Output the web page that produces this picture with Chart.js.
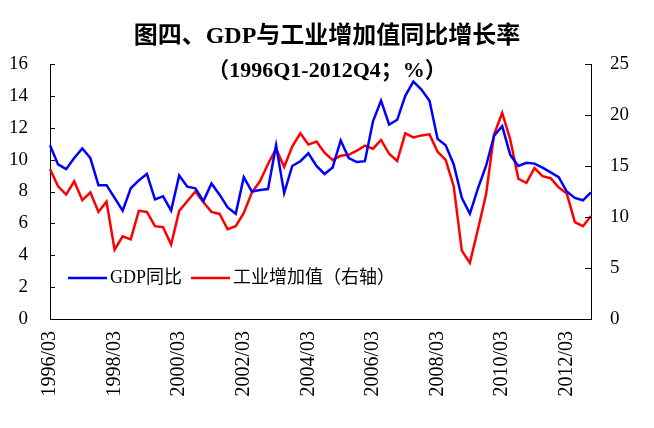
<!DOCTYPE html>
<html>
<head>
<meta charset="utf-8">
<script src="https://cdn.jsdelivr.net/npm/chart.js@4.4.1/dist/chart.umd.min.js"></script>
<style>
    body { margin: 0; background: #fff; }
    #wrap { width: 654px; height: 428px; }
</style>
</head>
<body>
<div id="wrap"><canvas id="chart" width="654" height="428"></canvas></div>
<script>
// 数据：1996Q1 - 2012Q4，季度
const years = [1996, 1997, 1998, 1999, 2000, 2001, 2002, 2003, 2004, 2005, 2006, 2007, 2008, 2009, 2010, 2011, 2012];
const months = ["03", "06", "09", "12"];
const quarterLabels = [];
years.forEach(y => months.forEach(m => quarterLabels.push(y + "/" + m)));

const gdpYoY = [
    10.9, 9.7, 9.4, 10.1, 10.7, 10.1, 8.4, 8.4, 7.6, 6.8,
    8.2, 8.7, 9.1, 7.5, 7.7, 6.8, 9.0, 8.3, 8.2, 7.4,
    8.5, 7.8, 7.0, 6.6, 8.9, 8.0, 8.1, 8.15, 10.9, 7.9,
    9.6, 9.9, 10.4, 9.6, 9.1, 9.5, 11.2, 10.1, 9.85, 9.9,
    12.4, 13.7, 12.2, 12.5, 14.0, 14.9, 14.4, 13.7, 11.3, 10.9,
    9.7, 7.6, 6.6, 8.2, 9.6, 11.5, 12.1, 10.3, 9.6, 9.8,
    9.75, 9.5, 9.2, 8.9, 8.0, 7.6, 7.45, 7.95
];

const industryYoY = [
    14.7, 13.0, 12.2, 13.5, 11.65, 12.4, 10.5, 11.5, 6.8, 8.1,
    7.8, 10.6, 10.5, 9.1, 9.0, 7.3, 10.6, 11.55, 12.5, 11.45,
    10.5, 10.3, 8.8, 9.1, 10.4, 12.4, 13.5, 15.2, 16.7, 14.9,
    16.9, 18.2, 17.1, 17.4, 16.3, 15.6, 16.0, 16.1, 16.5, 17.0,
    16.7, 17.55, 16.2, 15.5, 18.2, 17.8, 18.0, 18.1, 16.4, 15.6,
    13.0, 6.7, 5.5, 8.8, 12.2, 18.1, 20.2, 17.6, 13.75, 13.35,
    14.8, 14.0, 13.8, 12.9, 12.3, 9.5, 9.1, 10.1
];

const titleText = "图四、GDP与工业增加值同比增长率";
const subtitleText = "（1996Q1-2012Q4；%）";

const serif = '"Liberation Serif", "Noto Sans CJK SC", serif';

// 标题（压在图表区上方）
const titlePlugin = {
    id: "titles",
    afterDraw(chart) {
        const ctx = chart.ctx;
        const cx = chart.width / 2;
        ctx.save();
        ctx.fillStyle = "#000";
        ctx.textAlign = "center";
        ctx.textBaseline = "middle";
        ctx.font = "bold 24px " + serif;
        ctx.fillText(titleText, cx, 37);
        ctx.font = "bold 22px " + serif;
        ctx.fillText(subtitleText, cx, 71);
        ctx.restore();
    }
};

// 向内的刻度线
const innerTicks = {
    id: "innerTicks",
    afterDraw(chart) {
        const ctx = chart.ctx;
        const area = chart.chartArea;
        ctx.save();
        ctx.strokeStyle = "#000";
        ctx.lineWidth = 1;
        ["y", "y1"].forEach(id => {
            const s = chart.scales[id];
            s.ticks.forEach(t => {
                const py = Math.round(s.getPixelForValue(t.value)) + 0.5;
                ctx.beginPath();
                if (id === "y") {
                    ctx.moveTo(area.left, py);
                    ctx.lineTo(area.left + 5, py);
                } else {
                    ctx.moveTo(area.right, py);
                    ctx.lineTo(area.right - 6, py);
                }
                ctx.stroke();
            });
        });
        ctx.restore();
    }
};

// 图例放在图表区左下角
const innerLegend = {
    id: "innerLegend",
    afterDraw(chart) {
        const ctx = chart.ctx;
        let x = 68;
        const y = 278;
        ctx.save();
        ctx.font = "18px " + serif;
        ctx.textBaseline = "middle";
        ctx.textAlign = "left";
        chart.data.datasets.forEach(ds => {
            ctx.strokeStyle = ds.borderColor;
            ctx.lineWidth = 2.5;
            ctx.beginPath();
            ctx.moveTo(x, y);
            ctx.lineTo(x + 39, y);
            ctx.stroke();
            x += 42;
            ctx.fillStyle = "#000";
            ctx.fillText(ds.label, x, y);
            x += ctx.measureText(ds.label).width + 9;
        });
        ctx.restore();
    }
};

const ctx = document.getElementById("chart").getContext("2d");

new Chart(ctx, {
    type: "line",
    data: {
        labels: quarterLabels,
        datasets: [
            {
                label: "GDP同比",
                data: gdpYoY,
                borderColor: "#0000FF",
                borderWidth: 2.5,
                pointRadius: 0,
                tension: 0,
                yAxisID: "y"
            },
            {
                label: "工业增加值（右轴）",
                data: industryYoY,
                borderColor: "#FF0000",
                borderWidth: 2.5,
                pointRadius: 0,
                tension: 0,
                yAxisID: "y1"
            }
        ]
    },
    options: {
        responsive: false,
        animation: false,
        layout: { padding: { top: 64, left: 0, right: 0, bottom: 0 } },
        plugins: {
            legend: { display: false },
            title: { display: false },
            tooltip: { enabled: false }
        },
        scales: {
            x: {
                offset: false,
                grid: { display: false, drawTicks: false },
                border: { display: true, color: "#000", width: 1 },
                ticks: {
                    autoSkip: false,
                    minRotation: 90,
                    maxRotation: 90,
                    padding: 12,
                    color: "#000",
                    font: { family: serif, size: 20 },
                    callback: (value, index) => index % 8 === 0 ? quarterLabels[index] : null
                },
                afterFit: s => { s.height = 109; }
            },
            y: {
                position: "left",
                min: 0,
                max: 16,
                grid: { display: false, drawTicks: false },
                border: { display: true, color: "#000", width: 1 },
                ticks: {
                    stepSize: 2,
                    padding: 22,
                    color: "#000",
                    font: { family: serif, size: 19 }
                },
                afterFit: s => { s.width = 50; }
            },
            y1: {
                position: "right",
                min: 0,
                max: 25,
                grid: { display: false, drawTicks: false },
                border: { display: true, color: "#000", width: 1 },
                ticks: {
                    stepSize: 5,
                    padding: 19,
                    color: "#000",
                    font: { family: serif, size: 19 }
                },
                afterFit: s => { s.width = 63; }
            }
        }
    },
    plugins: [titlePlugin, innerTicks, innerLegend]
});
</script>
</body>
</html>
